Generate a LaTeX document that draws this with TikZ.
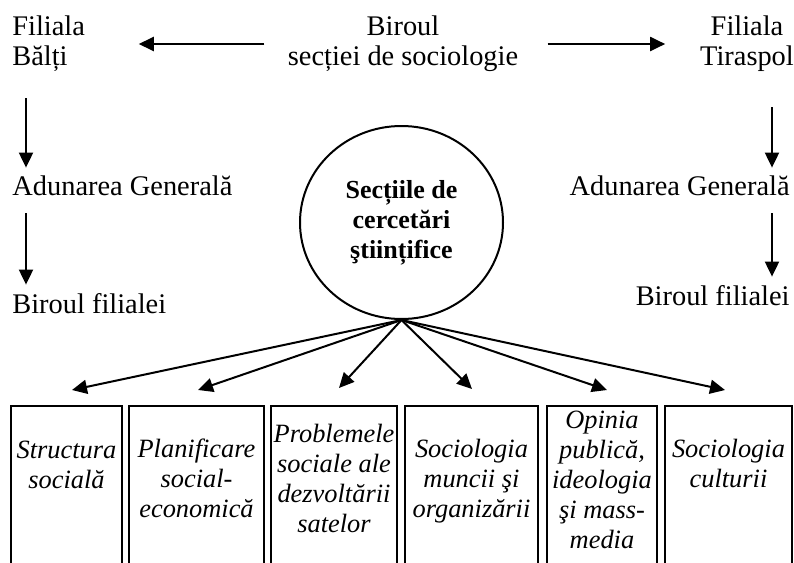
\documentclass[tikz,border=0pt]{standalone}
\usepackage{fontspec}
\setmainfont{Liberation Serif}
\usetikzlibrary{arrows.meta,shapes.geometric}
\newcommand\mystk[2][c]{\begin{tabular}[t]{@{}#1@{}}#2\end{tabular}}
\begin{document}
\begin{tikzpicture}[x=0.5pt,y=-0.5pt,
  txt/.style={inner sep=0pt, font=\fontsize{14.2}{15}\selectfont},
  bld/.style={font=\fontsize{13}{15}\selectfont\bfseries},
  itl/.style={inner sep=0pt, font=\fontsize{13.2}{15}\selectfont\itshape},
  arr/.style={line width=1pt, -{Triangle[length=7.5pt,width=7pt]}},
  boxs/.style={draw, line width=0.75pt, rectangle, anchor=north, minimum height=90pt, inner sep=0pt},
]
\useasboundingbox (0,0) rectangle (794,563);
\clip (0,0) rectangle (794,563);

% top row
\node[txt, anchor=base west] (fb) at (12,35) {\mystk[l]{Filiala\\Bălți}};
\node[txt, anchor=base] (bs) at (403,35) {\mystk{Biroul\\secției de sociologie}};
\node[txt, anchor=base] (ft) at (747,35) {\mystk{Filiala\\Tiraspol}};

% left column
\node[txt, anchor=base west] (ag1) at (12,195) {\mystk{Adunarea Generală}};
\node[txt, anchor=base west] (bf1) at (12,313) {\mystk{Biroul filialei}};
% right column
\node[txt, anchor=base east] (ag2) at (790,195) {\mystk{Adunarea Generală}};
\node[txt, anchor=base east] (bf2) at (790,305) {\mystk{Biroul filialei}};

\coordinate (lx) at (26,0);
\coordinate (rx) at (772,0);

% horizontal arrows
\draw[arr, shorten <=11.5pt, shorten >=26.7pt] (bs.west) -- (fb.east |- bs.west);
\draw[arr, shorten <=14.5pt, shorten >=17.3pt] (bs.east) -- (ft.west |- bs.east);

% vertical arrows
\draw[arr, shorten <=12pt, shorten >=3pt] (fb.south -| lx) -- (ag1.north -| lx);
\draw[arr, shorten <=4.5pt, shorten >=3.5pt] (ag1.south -| lx) -- (bf1.north -| lx);
\draw[arr, shorten <=16.5pt, shorten >=3pt] (ft.south -| rx) -- (ag2.north -| rx);
\draw[arr, shorten <=4.5pt, shorten >=3.5pt] (ag2.south -| rx) -- (bf2.north -| rx);

% circle
\node[draw, ellipse, line width=1pt, minimum width=101.5pt, minimum height=96.5pt,
      inner sep=0pt, bld] (circ) at (401.5,222.5) {\mystk{Secțiile de\\cercetări\\ştiințifice}};

% boxes
\node[boxs, minimum width=55.5pt] (b1) at (66.5,405) {};
\node[boxs, minimum width=67.5pt] (b2) at (196.5,405) {};
\node[boxs, minimum width=63pt]   (b3) at (334,405) {};
\node[boxs, minimum width=66.5pt] (b4) at (471.5,405) {};
\node[boxs, minimum width=55pt]   (b5) at (602,405) {};
\node[boxs, minimum width=63.5pt] (b6) at (728.5,405) {};

\node[itl, anchor=base] (t1) at (66.5,458) {\mystk{Structura\\socială}};
\node[itl, anchor=base] (t2) at (196.5,457) {\mystk{Planificare\\social-\\economică}};
\node[itl, anchor=base] (t3) at (334,442) {\mystk{Problemele\\sociale ale\\dezvoltării\\satelor}};
\node[itl, anchor=base] (t4) at (471.5,457) {\mystk{Sociologia\\muncii şi\\organizării}};
\node[itl, anchor=base] (t5) at (602,428) {\mystk{Opinia\\publică,\\ideologia\\şi mass-\\media}};
\node[itl, anchor=base] (t6) at (728.5,457) {\mystk{Sociologia\\culturii}};

% arrows from circle to boxes
\draw[arr] (circ.south) -- ([xshift=2.75pt,yshift=7.5pt]b1.north);
\draw[arr] (circ.south) -- ([xshift=0.75pt,yshift=7.5pt]b2.north);
\draw[arr] (circ.south) -- ([xshift=2.5pt,yshift=8.5pt]b3.north);
\draw[arr] (circ.south) -- ([xshift=0.25pt,yshift=8pt]b4.north);
\draw[arr] (circ.south) -- ([xshift=2.5pt,yshift=7.5pt]b5.north);
\draw[arr] (circ.south) -- ([xshift=-1.75pt,yshift=7.5pt]b6.north);
\end{tikzpicture}
\end{document}
